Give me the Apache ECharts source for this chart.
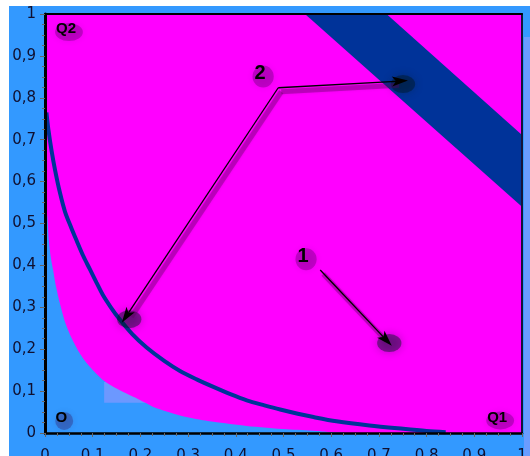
<!DOCTYPE html>
<html>
<head>
<meta charset="utf-8">
<script src="https://cdn.jsdelivr.net/npm/echarts@6/dist/echarts.min.js"></script>
<style>
  html, body { margin: 0; padding: 0; background: #ffffff; width: 530px; height: 456px; overflow: hidden; }
  #chart { position: absolute; left: 9px; top: 6px; width: 521px; height: 450px; }
</style>
</head>
<body>
<div id="chart"></div>
<script>
// Axis tick labels (decimal comma)
const tickLabels = ['0', '0,1', '0,2', '0,3', '0,4', '0,5', '0,6', '0,7', '0,8', '0,9', '1'];

// Lower edge of the magenta zone (below it lies the blue zone)
const edgeX = [0, 0.005, 0.008, 0.012, 0.017, 0.023, 0.031, 0.042, 0.056, 0.074, 0.094, 0.122, 0.160, 0.199, 0.234, 0.283, 0.320, 0.353, 0.423, 0.507, 0.570, 0.600, 0.650, 1.0];
const edgeY = [0.58, 0.516, 0.461, 0.420, 0.389, 0.350, 0.310, 0.265, 0.226, 0.188, 0.158, 0.126, 0.100, 0.079, 0.059, 0.042, 0.033, 0.027, 0.017, 0.009, 0.005, 0.002, 0, 0];

// Dark blue frontier curve
const curveX = [0.003, 0.007, 0.014, 0.021, 0.031, 0.042, 0.055, 0.066, 0.080, 0.094, 0.108, 0.122, 0.138, 0.154, 0.183, 0.213, 0.250, 0.283, 0.318, 0.353, 0.390, 0.423, 0.460, 0.493, 0.530, 0.563, 0.611, 0.680, 0.751, 0.800, 0.840];
const curveY = [0.765, 0.725, 0.672, 0.628, 0.575, 0.528, 0.490, 0.460, 0.423, 0.391, 0.359, 0.328, 0.300, 0.275, 0.236, 0.204, 0.172, 0.148, 0.128, 0.110, 0.092, 0.078, 0.066, 0.056, 0.046, 0.038, 0.028, 0.018, 0.010, 0.005, 0.002];

// Diagonal dark band in the upper right (corner points)
const bandX = [0.545, 0.716, 1.0, 1.0];
const bandY = [1.0, 1.0, 0.711, 0.540];

// Pale patch in the blue zone [x0, y0, x1, y1]
const patchBox = [0.124, 0.072, 0.26, 0.122];

// Arrows: tail and head points
const arrowFrom = [[0.577, 0.389], [0.489, 0.824], [0.489, 0.824]];
const arrowTo = [[0.727, 0.208], [0.761, 0.841], [0.161, 0.263]];

// Annotation texts and their anchors
const noteText = ['Q2', 'O', 'Q1', '2', '1'];
const noteX = [0.044, 0.034, 0.948, 0.451, 0.541];
const noteY = [0.964, 0.036, 0.037, 0.858, 0.422];

const pairs = (xs, ys) => xs.map((x, i) => [x, ys[i]]);

const chart = echarts.init(document.getElementById('chart'), null, { renderer: 'canvas' });

const labelFmt = v => tickLabels[Math.round(v * 10)];
const tickStyle = { color: '#666666', width: 1 };

function baseAxis(extra) {
  return Object.assign({
    type: 'value', min: 0, max: 1, interval: 0.1,
    splitLine: { show: false },
    z: 10
  }, extra);
}

const option = {
  animation: false,
  backgroundColor: '#3399ff',
  grid: { left: 36, top: 8, right: 8, bottom: 23, show: true, backgroundColor: '#3399ff', borderWidth: 0, outerBoundsMode: 'none', containLabel: false },
  xAxis: [
    baseAxis({
      position: 'bottom',
      axisLine: { show: true, onZero: false, lineStyle: { color: '#000', width: 2.5 } },
      axisTick: { show: true, length: 4, lineStyle: tickStyle },
      minorTick: { show: true, splitNumber: 4, length: 3, lineStyle: tickStyle },
      axisLabel: { margin: 16, fontSize: 15, fontFamily: 'DejaVu Sans', color: '#101030', formatter: labelFmt }
    }),
    baseAxis({
      position: 'top',
      axisLine: { show: true, onZero: false, lineStyle: { color: '#000', width: 2 } },
      axisTick: { show: false }, axisLabel: { show: false }
    })
  ],
  yAxis: [
    baseAxis({
      position: 'left',
      axisLine: { show: true, onZero: false, lineStyle: { color: '#000', width: 3 } },
      axisTick: { show: true, length: 5, lineStyle: tickStyle },
      minorTick: { show: true, splitNumber: 4, length: 3, lineStyle: tickStyle },
      axisLabel: { margin: 9, fontSize: 15, fontFamily: 'DejaVu Sans', color: '#101030', formatter: labelFmt }
    }),
    baseAxis({
      position: 'right',
      axisLine: { show: true, onZero: false, lineStyle: { color: '#14143c', width: 2 } },
      axisTick: { show: false }, axisLabel: { show: false }
    })
  ],
  graphic: [
    { type: 'rect', left: 515, top: 31, shape: { width: 6, height: 419 }, style: { fill: '#6a9cff' }, z: 0 }
  ],
  series: [
    {
      // pale patch inside the blue zone
      type: 'custom',
      data: [patchBox],
      encode: { x: [0, 2], y: [1, 3] },
      renderItem(params, api) {
        const p0 = api.coord([api.value(0), api.value(3)]);
        const p1 = api.coord([api.value(2), api.value(1)]);
        return { type: 'rect', shape: { x: p0[0], y: p0[1], width: p1[0] - p0[0], height: p1[1] - p0[1] }, style: { fill: '#6c98ff' } };
      },
      z: 2
    },
    {
      // magenta zone above the lower edge
      type: 'line',
      data: pairs(edgeX, edgeY),
      showSymbol: false,
      smooth: 0.25,
      lineStyle: { width: 0 },
      areaStyle: { color: '#ff00ff', opacity: 1, origin: 'end' },
      z: 2
    },
    {
      // diagonal dark band
      type: 'custom',
      data: [0],
      renderItem(params, api) {
        const pts = bandX.map((x, i) => api.coord([x, bandY[i]]));
        return { type: 'polygon', shape: { points: pts }, style: { fill: '#003399' } };
      },
      z: 3
    },
    {
      type: 'line',
      data: pairs(curveX, curveY),
      showSymbol: false,
      smooth: 0.3,
      lineStyle: { color: '#003399', width: 4 },
      z: 4
    },
    {
      // arrows with soft drop shadows
      type: 'custom',
      data: arrowFrom.map((p, i) => [p[0], p[1], arrowTo[i][0], arrowTo[i][1]]),
      encode: { x: [0, 2], y: [1, 3] },
      renderItem(params, api) {
        const a = api.coord([api.value(0), api.value(1)]);
        const b = api.coord([api.value(2), api.value(3)]);
        const ang = Math.atan2(b[1] - a[1], b[0] - a[0]);
        const ux = Math.cos(ang), uy = Math.sin(ang);
        const px = -uy, py = ux;
        const L = 16, W = 5, N = 12;
        const back = [b[0] - ux * L, b[1] - uy * L];
        const notch = [b[0] - ux * N, b[1] - uy * N];
        const head = [b, [back[0] + px * W, back[1] + py * W], notch, [back[0] - px * W, back[1] - py * W]];
        const bc = [b[0] - ux * L * 0.5 + 3, b[1] - uy * L * 0.5 + 3];
        return {
          type: 'group',
          children: [
            { type: 'circle', x: bc[0], y: bc[1], scaleX: 1.35, shape: { cx: 0, cy: 0, r: 9 },
              style: { fill: 'rgba(0,25,35,0.45)', shadowBlur: 8, shadowColor: 'rgba(0,25,35,0.6)' } },
            { type: 'line', shape: { x1: a[0] + 3, y1: a[1] + 4, x2: notch[0] + 3, y2: notch[1] + 4 },
              style: { stroke: 'rgba(90,0,90,0.35)', lineWidth: 5, shadowBlur: 3, shadowColor: 'rgba(90,0,90,0.35)' } },
            { type: 'line', shape: { x1: a[0], y1: a[1], x2: notch[0], y2: notch[1] },
              style: { stroke: '#000', lineWidth: 1.3 } },
            { type: 'polygon', shape: { points: head }, style: { fill: '#000' } }
          ]
        };
      },
      z: 6
    },
    {
      // annotation texts with shadow blobs
      type: 'custom',
      data: noteX.map((x, i) => [x, noteY[i]]),
      renderItem(params, api) {
        const p = api.coord([api.value(0), api.value(1)]);
        const txt = noteText[params.dataIndex];
        const fs = /^\d$/.test(txt) ? 20 : 15;
        const rx = 0.33 * fs * txt.length + 4;
        const ry = fs * 0.4 + 3;
        return {
          type: 'group',
          children: [
            { type: 'circle', x: p[0] + 3, y: p[1] + 3, scaleX: rx / ry, shape: { cx: 0, cy: 0, r: ry },
              style: { fill: 'rgba(50,0,70,0.28)', shadowBlur: 6, shadowColor: 'rgba(50,0,70,0.35)' } },
            { type: 'text', x: p[0], y: p[1],
              style: { text: txt, fontSize: fs, fontWeight: 'bold', fontFamily: 'Liberation Sans', fill: '#000',
                       align: 'center', verticalAlign: 'middle' } }
          ]
        };
      },
      z: 7
    }
  ]
};

chart.setOption(option);
</script>
</body>
</html>
